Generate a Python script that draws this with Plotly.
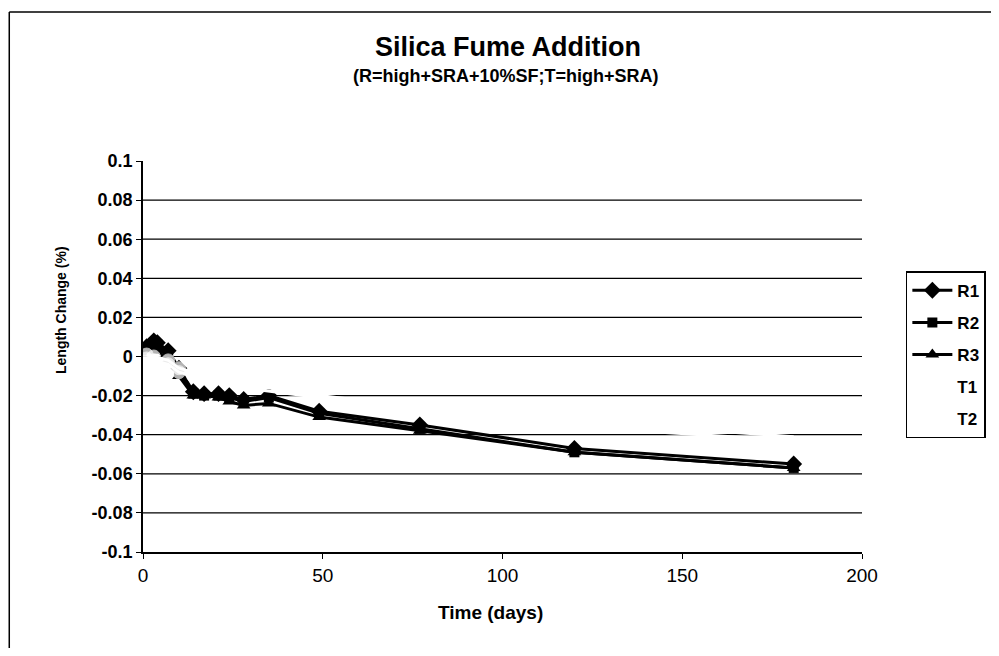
import plotly.graph_objects as go

# R series (high + SRA + 10% SF)
r_days = [1, 3, 4, 7, 10, 14, 17, 21, 24, 28, 35, 49, 77, 120, 181]
r1 = [0.005, 0.008, 0.007, 0.003, -0.006, -0.018, -0.019, -0.019, -0.020, -0.022, -0.020, -0.028, -0.035, -0.047, -0.055]
r2 = [0.004, 0.007, 0.006, 0.001, -0.008, -0.019, -0.020, -0.020, -0.021, -0.023, -0.021, -0.029, -0.037, -0.049, -0.057]
r3 = [0.002, 0.004, 0.003, -0.002, -0.010, -0.020, -0.020, -0.021, -0.023, -0.025, -0.024, -0.031, -0.038, -0.049, -0.057]

# T series (high + SRA) - plotted in white in the original
t_days = [1, 3, 7, 10, 14, 28, 49, 77, 120, 181]
t1 = [0.001, 0.000, -0.002, -0.006, -0.008, -0.014, -0.020, -0.026, -0.036, -0.043]
t2 = [-0.001, -0.002, -0.004, -0.008, -0.010, -0.016, -0.021, -0.027, -0.033, -0.041]
t_marker_sizes = [13, 13, 13, 13, 13, 0, 0, 0, 0, 0]

y_ticks = [0.1, 0.08, 0.06, 0.04, 0.02, 0, -0.02, -0.04, -0.06, -0.08, -0.1]
y_tick_text = ["0.1", "0.08", "0.06", "0.04", "0.02", "0", "-0.02", "-0.04", "-0.06", "-0.08", "-0.1"]
grid_levels = [0.08, 0.06, 0.04, 0.02, 0, -0.02, -0.04, -0.06, -0.08]
x_ticks = [0, 50, 100, 150, 200]

FONT = "Liberation Sans, Arial, sans-serif"

fig = go.Figure()
series = [
    ("R1", r_days, r1, "diamond", 13),
    ("R2", r_days, r2, "square", 10),
    ("R3", r_days, r3, "triangle-up", 12),
]
for name, x, y, sym, sz in series:
    fig.add_trace(go.Scatter(x=x, y=y, name=name, mode="lines+markers", legendgroup=name,
                             line=dict(color="black", width=3),
                             marker=dict(symbol=sym, size=sz, color="black")))
for name, y in [("T1", t1), ("T2", t2)]:
    fig.add_trace(go.Scatter(x=t_days, y=y, name=name, mode="lines+markers", legendgroup=name,
                             line=dict(color="white", width=3),
                             marker=dict(symbol="circle", size=t_marker_sizes, color="white")))

# horizontal gridlines (none at the top 0.1)
for g in grid_levels:
    fig.add_shape(type="line", xref="paper", yref="y", x0=0, x1=1, y0=g, y1=g,
                  line=dict(color="black", width=1.2), layer="below")

# outer frame of the chart: only its left and top edges are in the picture
fig.add_shape(type="line", xref="paper", yref="paper", x0=-0.186, x1=-0.186, y0=-0.4, y1=1.381,
              line=dict(color="black", width=1.5))
fig.add_shape(type="line", xref="paper", yref="paper", x0=-0.186, x1=1.3, y0=1.381, y1=1.381,
              line=dict(color="black", width=1.5))

# titles
fig.add_annotation(text="<b>Silica Fume Addition</b>", xref="paper", yref="paper",
                   x=0.508, y=1.292, xanchor="center", yanchor="middle", showarrow=False,
                   font=dict(size=27))
fig.add_annotation(text="<b>(R=high+SRA+10%SF;T=high+SRA)</b>", xref="paper", yref="paper",
                   x=0.505, y=1.218, xanchor="center", yanchor="middle", showarrow=False,
                   font=dict(size=18))
fig.add_annotation(text="<b>Length Change (%)</b>", xref="paper", yref="paper",
                   x=-0.114, y=0.619, xanchor="center", yanchor="middle", showarrow=False,
                   textangle=-90, font=dict(size=14))
fig.add_annotation(text="<b>Time (days)</b>", xref="paper", yref="paper",
                   x=0.483, y=-0.156, xanchor="center", yanchor="middle", showarrow=False,
                   font=dict(size=19))

fig.update_layout(
    width=991, height=640,
    margin=dict(l=135, r=137, t=153, b=96),
    paper_bgcolor="white", plot_bgcolor="white",
    font=dict(family=FONT, color="black"),
    xaxis=dict(range=[0, 200], tickvals=x_ticks, showgrid=False, zeroline=False,
               showline=True, linecolor="black", linewidth=1.5,
               ticks="outside", ticklen=5, tickcolor="black",
               tickprefix="<b>", ticksuffix="</b>", tickfont=dict(size=19)),
    yaxis=dict(range=[-0.1, 0.1], tickvals=y_ticks, ticktext=["<b>%s</b>" % t for t in y_tick_text],
               showgrid=False, zeroline=False, showline=True, linecolor="black", linewidth=1.5,
               ticks="outside", ticklen=5, tickcolor="black",
               tickfont=dict(size=18)),
    legend=dict(x=1.061, xanchor="left", y=0.718, yanchor="top",
                bordercolor="black", borderwidth=1.5, bgcolor="white",
                font=dict(size=17, family="Liberation Sans, Arial, sans-serif", weight="bold"),
                tracegroupgap=7, itemwidth=40),
    showlegend=True,
)

fig.write_html("out.html")
